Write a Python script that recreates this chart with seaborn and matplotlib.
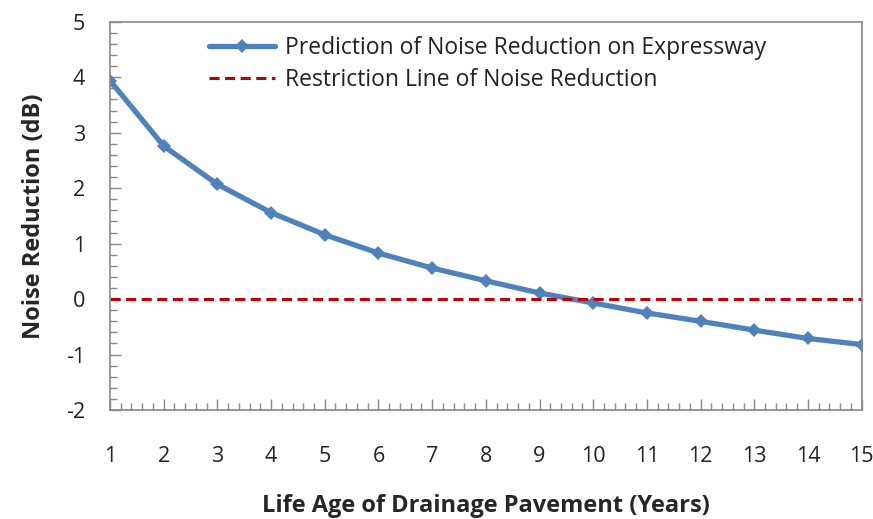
import matplotlib
matplotlib.use('Agg')
import matplotlib.pyplot as plt
from matplotlib.ticker import MultipleLocator
import seaborn as sns
import pandas as pd

years = [1, 2, 3, 4, 5, 6, 7, 8, 9, 10, 11, 12, 13, 14, 15]
prediction = [3.94, 2.76, 2.07, 1.56, 1.16, 0.83, 0.56, 0.33, 0.11,
              -0.07, -0.25, -0.40, -0.56, -0.71, -0.82]
restriction = [0] * len(years)

sns.set_theme(style="white")
plt.rcParams['font.family'] = ['Open Sans', 'DejaVu Sans']
plt.rcParams['axes.unicode_minus'] = False

df = pd.DataFrame({'year': years, 'pred': prediction, 'limit': restriction})

fig = plt.figure(figsize=(8.73, 5.19), dpi=100)
ax = fig.add_axes([0.126, 0.21, 0.861, 0.748])

sns.lineplot(data=df, x='year', y='pred', ax=ax, color='#4F81BD', linewidth=3.8,
             marker='D', markersize=7.5, markeredgewidth=0,
             label='Prediction of Noise Reduction on Expressway')
sns.lineplot(data=df, x='year', y='limit', ax=ax, color='#C00000', linewidth=2.2,
             dashes=False, label='Restriction Line of Noise Reduction')
ax.lines[1].set_dashes([3.3, 1.8])

ax.set_xlim(1, 15)
ax.set_ylim(-2, 5)
ax.xaxis.set_major_locator(MultipleLocator(1))
ax.xaxis.set_minor_locator(MultipleLocator(0.2))
ax.yaxis.set_major_locator(MultipleLocator(1))
ax.yaxis.set_minor_locator(MultipleLocator(0.2))
ax.tick_params(axis='both', which='major', direction='in', length=8, width=1,
               color='#888888', labelsize=15.5, labelcolor='#222222')
ax.tick_params(axis='both', which='minor', direction='in', length=5, width=1,
               color='#888888')
ax.tick_params(axis='x', which='major', pad=26)
ax.tick_params(axis='y', which='major', pad=18)
ax.tick_params(axis='both', which='both', left=True, bottom=True)

for s in ax.spines.values():
    s.set_color('#888888')
    s.set_linewidth(1.2)

ax.set_xlabel('Life Age of Drainage Pavement (Years)', fontsize=17, fontweight='bold',
              labelpad=19)
ax.set_ylabel('Noise Reduction (dB)', fontsize=17, fontweight='bold', labelpad=14)

leg = ax.legend(loc='upper center', bbox_to_anchor=(0.502, 1.0), frameon=False,
                fontsize=16.5, handlelength=2.9, handletextpad=0.4, labelspacing=0.38,
                borderaxespad=0.2)
for t in leg.get_texts():
    t.set_color('#222222')

fig.savefig('out.png', dpi=100)
plt.close(fig)
